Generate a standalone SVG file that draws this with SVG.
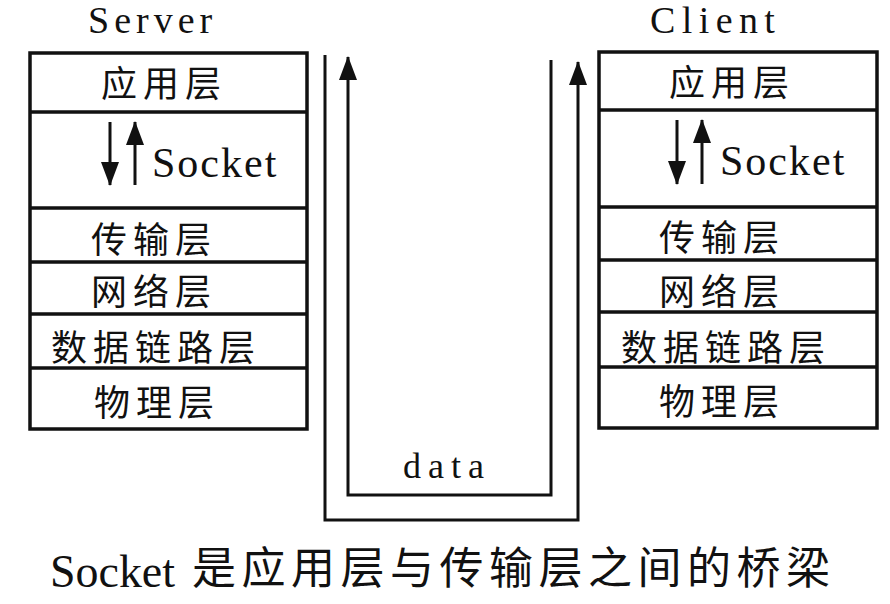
<svg xmlns="http://www.w3.org/2000/svg" width="890" height="604" viewBox="0 0 890 604">
  <style>
    .box { fill: #fff; stroke: #111; stroke-width: 3.5; }
    .div { stroke: #111; stroke-width: 3.5; }
    .ln { fill: none; stroke: #111; stroke-width: 3; }
    .cn { font-family: "Noto Sans CJK SC", "Noto Sans", sans-serif; font-size: 36px; letter-spacing: 6px; fill: #111; }
    .lat { font-family: "Liberation Serif", "DejaVu Serif", serif; fill: #111; }
  </style>
  <defs>
    <marker id="ah" viewBox="0 0 24 18" refX="23" refY="9" markerWidth="24" markerHeight="18" markerUnits="userSpaceOnUse" orient="auto">
      <path d="M0,0 L24,9 L0,18 Z" fill="#111"/>
    </marker>
  </defs>
  <rect width="890" height="604" fill="#fff"/>

  <!-- Server stack -->
  <g id="server">
    <text class="lat" x="88" y="33" font-size="38" letter-spacing="5">Server</text>
    <rect class="box" x="30" y="53" width="277" height="376"/>
    <g id="s-app">
      <line class="div" x1="30" y1="112" x2="307" y2="112"/>
      <text class="cn" x="101" y="97">应用层</text>
    </g>
    <g id="s-socket">
      <line class="div" x1="30" y1="208" x2="307" y2="208"/>
      <line class="ln" x1="110" y1="122" x2="110" y2="185" marker-end="url(#ah)"/>
      <line class="ln" x1="135" y1="185" x2="135" y2="122" marker-end="url(#ah)"/>
      <text class="lat" x="152" y="177" font-size="42" letter-spacing="2">Socket</text>
    </g>
    <g id="s-transport">
      <line class="div" x1="30" y1="262" x2="307" y2="262"/>
      <text class="cn" x="91" y="253">传输层</text>
    </g>
    <g id="s-network">
      <line class="div" x1="30" y1="314" x2="307" y2="314"/>
      <text class="cn" x="91" y="305">网络层</text>
    </g>
    <g id="s-link">
      <line class="div" x1="30" y1="368" x2="307" y2="368"/>
      <text class="cn" x="51" y="361">数据链路层</text>
    </g>
    <g id="s-physical">
      <text class="cn" x="94" y="416">物理层</text>
    </g>
  </g>

  <!-- Client stack -->
  <g id="client">
    <text class="lat" x="650" y="33" font-size="38" letter-spacing="6.4">Client</text>
    <rect class="box" x="599" y="52" width="278" height="376"/>
    <g id="c-app">
      <line class="div" x1="599" y1="110" x2="877" y2="110"/>
      <text class="cn" x="669" y="96">应用层</text>
    </g>
    <g id="c-socket">
      <line class="div" x1="599" y1="207" x2="877" y2="207"/>
      <line class="ln" x1="677" y1="120" x2="677" y2="184" marker-end="url(#ah)"/>
      <line class="ln" x1="702" y1="184" x2="702" y2="120" marker-end="url(#ah)"/>
      <text class="lat" x="720" y="175" font-size="42" letter-spacing="2">Socket</text>
    </g>
    <g id="c-transport">
      <line class="div" x1="599" y1="260" x2="877" y2="260"/>
      <text class="cn" x="659" y="251">传输层</text>
    </g>
    <g id="c-network">
      <line class="div" x1="599" y1="312" x2="877" y2="312"/>
      <text class="cn" x="659" y="305">网络层</text>
    </g>
    <g id="c-link">
      <line class="div" x1="599" y1="367" x2="877" y2="367"/>
      <text class="cn" x="621" y="361">数据链路层</text>
    </g>
    <g id="c-physical">
      <text class="cn" x="659" y="415">物理层</text>
    </g>
  </g>

  <!-- Connectors -->
  <g id="connectors">
    <path class="ln" d="M551,60 L551,495 L348,495 L348,57" marker-end="url(#ah)"/>
    <path class="ln" d="M325,55 L325,520 L578,520 L578,62" marker-end="url(#ah)"/>
    <text class="lat" x="403" y="478" font-size="36" letter-spacing="7">data</text>
  </g>

  <!-- Caption -->
  <g id="caption">
    <text class="lat" x="50" y="587" font-size="47" textLength="125" lengthAdjust="spacingAndGlyphs">Socket</text>
    <text x="192" y="584" font-family="Noto Sans CJK SC, sans-serif" font-size="44" letter-spacing="5.5" fill="#111">是应用层与传输层之间的桥梁</text>
  </g>
</svg>
